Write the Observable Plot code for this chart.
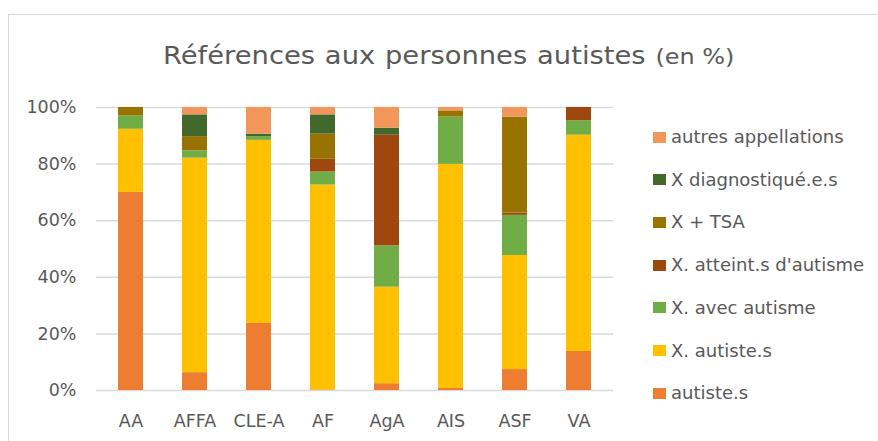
<!DOCTYPE html>
<html>
<head>
<meta charset="utf-8">
<script src="https://cdn.jsdelivr.net/npm/d3@7"></script>
<script src="https://cdn.jsdelivr.net/npm/@observablehq/plot@0.6"></script>
<style>
  html, body { margin: 0; padding: 0; background: #fff; }
  #wrap { position: relative; width: 878px; height: 441px; overflow: hidden; font-family: "DejaVu Sans", sans-serif; color: #595959; }
  #frame { position: absolute; left: 8px; top: 14px; width: 900px; height: 460px; border: 1.5px solid #d9d9d9; box-sizing: border-box; }
  #title { position: absolute; left: 163px; top: 44px; font-size: 24px; white-space: nowrap; line-height: 1; transform: scaleX(1.14); transform-origin: 0 50%; word-spacing: 1px; }
  #title small { font-size: 21px; word-spacing: 0; }
  #chart { position: absolute; left: 0; top: 0; }
  .leg { position: absolute; left: 653px; font-size: 18px; line-height: 1; white-space: nowrap; display: flex; align-items: center; }
  .leg span.sw { display: inline-block; width: 13px; height: 11px; margin-right: 5px; }
</style>
</head>
<body>
<div id="wrap">
  <div id="frame"></div>
  <div id="chart"></div>
  <div id="title">Références aux personnes autistes <small>(en %)</small></div>
  <div id="legend"></div>
</div>
<script>
const categories = ["AA", "AFFA", "CLE-A", "AF", "AgA", "AIS", "ASF", "VA"];
const seriesNames = ["autiste.s", "X. autiste.s", "X. avec autisme", "X. atteint.s d'autisme", "X + TSA", "X diagnostiqué.e.s", "autres appellations"];
const seriesColors = ["#ED7D31", "#FFC000", "#70AD47", "#9E480E", "#997300", "#43682B", "#F1975A"];

const autistes       = [70.0,  6.3, 23.7,  0.2,  2.4,  0.7,  7.4, 13.8];
const xAutistes      = [22.3, 75.8, 64.7, 72.4, 34.1, 79.2, 40.3, 76.4];
const xAvecAutisme   = [ 4.7,  2.6,  1.3,  4.6, 14.6, 16.7, 14.2,  5.1];
const xAtteints      = [ 0.0,  0.0,  0.0,  4.5, 39.1,  0.0,  0.8,  4.7];
const xTSA           = [ 3.0,  5.0,  0.0,  8.9,  0.0,  2.2, 33.9,  0.0];
const xDiagnostiques = [ 0.0,  7.7,  0.9,  6.8,  2.5,  0.0,  0.0,  0.0];
const autres         = [ 0.0,  2.6,  9.4,  2.6,  7.3,  1.2,  3.4,  0.0];

const yTicks = [0, 0.2, 0.4, 0.6, 0.8, 1];

const seriesValues = [autistes, xAutistes, xAvecAutisme, xAtteints, xTSA, xDiagnostiques, autres];
const rows = [];
seriesValues.forEach((vals, s) => {
  categories.forEach((c, i) => rows.push({cat: c, series: seriesNames[s], value: vals[i]}));
});

const plot = Plot.plot({
  width: 878,
  height: 441,
  marginLeft: 96,
  marginRight: 265,
  marginTop: 107,
  marginBottom: 51,
  style: {fontFamily: "DejaVu Sans, sans-serif", fontSize: "17.5px", color: "#595959", background: "transparent"},
  x: {domain: categories, paddingInner: 0.61, paddingOuter: 0.3, label: null},
  y: {domain: [0, 1], label: null},
  color: {domain: seriesNames, range: seriesColors},
  marks: [
    Plot.gridY(yTicks, {stroke: "#d9d9d9", strokeOpacity: 1, strokeWidth: 1.5}),
    Plot.barY(rows, Plot.stackY({order: seriesNames, offset: "normalize"}, {x: "cat", y: "value", z: "series", fill: "series", inset: 0})),
    Plot.axisX({tickSize: 0, tickPadding: 24, fill: "#595959"}),
    Plot.axisY({ticks: yTicks, tickFormat: d3.format(".0%"), tickSize: 0, tickPadding: 20, fill: "#595959"})
  ]
});
document.getElementById("chart").appendChild(plot);

const legend = document.getElementById("legend");
const legendTop = 137, legendStep = 42.7;
seriesNames.slice().reverse().forEach((name, i) => {
  const idx = seriesNames.indexOf(name);
  const d = document.createElement("div");
  d.className = "leg";
  d.style.top = (legendTop + i * legendStep - 9) + "px";
  d.style.height = "18px";
  const sw = document.createElement("span");
  sw.className = "sw";
  sw.style.background = seriesColors[idx];
  d.appendChild(sw);
  d.appendChild(document.createTextNode(name));
  legend.appendChild(d);
});
</script>
</body>
</html>
